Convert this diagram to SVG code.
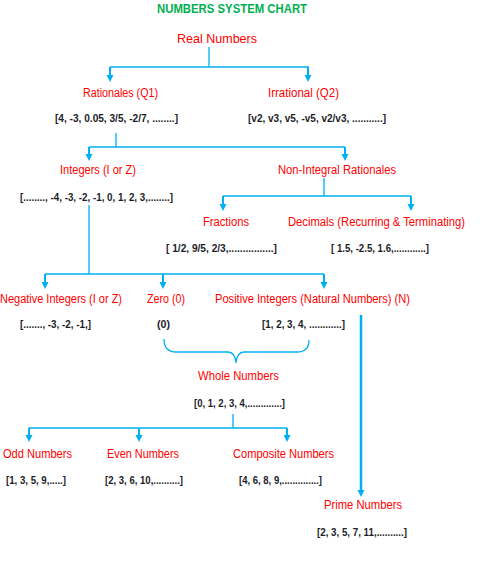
<svg xmlns="http://www.w3.org/2000/svg" width="484" height="572" viewBox="0 0 484 572">
<style>
text{font-family:"Liberation Sans",Arial,sans-serif;}
.t{fill:#00b050;font-size:12px;font-weight:bold;}
.h{fill:#ff0000;font-size:12px;}
.l{fill:#1c1c28;font-size:10.5px;font-weight:bold;}
.c{stroke:#00b0f0;stroke-width:1.3;fill:none;}
.a{stroke:#00b0f0;stroke-width:2;fill:none;marker-end:url(#ah);}
</style>
<defs>
<marker id="ah" viewBox="0 -4 8 8" markerWidth="8" markerHeight="8" refX="1" refY="0" orient="auto" markerUnits="userSpaceOnUse">
<path d="M0,-3.5 L7,0 L0,3.5 Z" fill="#00b0f0"/>
</marker>
</defs>
<rect width="484" height="572" fill="#ffffff"/>
<text class="t" x="157" y="13" textLength="150" lengthAdjust="spacingAndGlyphs">NUMBERS SYSTEM CHART</text>
<g id="connectors">
<path class="c" d="M209,47 V67 M110,67 H309"/>
<line class="a" x1="110" y1="67" x2="110" y2="76"/>
<line class="a" x1="308" y1="67" x2="308" y2="76"/>
<path class="c" d="M116,133 V147 M89,147 H345"/>
<line class="a" x1="89" y1="147" x2="89" y2="155"/>
<line class="a" x1="345" y1="147" x2="345" y2="155"/>
<path class="c" d="M324,178 V196 M223,196 H411"/>
<line class="a" x1="223" y1="196" x2="223" y2="205"/>
<line class="a" x1="411" y1="196" x2="411" y2="205"/>
<path class="c" d="M89,205 V274 M45,274 H324"/>
<line class="a" x1="45" y1="274" x2="45" y2="283"/>
<line class="a" x1="163" y1="274" x2="163" y2="283"/>
<line class="a" x1="324" y1="274" x2="324" y2="283"/>
<line class="a" style="stroke-width:2.5" x1="361" y1="315" x2="361" y2="491"/>
<path class="c" d="M164,339 Q164,352 176,352 H228 Q235,352 236,363 Q237,352 244,352 H297 Q309,352 309,340"/>
<path class="c" d="M233,414 V428 M29,428 H287"/>
<line class="a" x1="29" y1="428" x2="29" y2="436"/>
<line class="a" x1="139" y1="428" x2="139" y2="436"/>
<line class="a" x1="287" y1="428" x2="287" y2="436"/>
</g>
<g id="real"><text class="h" style="font-size:13px" x="177" y="43" textLength="80" lengthAdjust="spacingAndGlyphs">Real Numbers</text></g>
<g id="rationales">
<text class="h" x="83" y="96.5" textLength="75" lengthAdjust="spacingAndGlyphs">Rationales (Q1)</text>
<text class="l" x="55" y="122" textLength="123" lengthAdjust="spacingAndGlyphs">[4, -3, 0.05, 3/5, -2/7, ........]</text>
</g>
<g id="irrational">
<text class="h" x="268" y="96.5" textLength="71" lengthAdjust="spacingAndGlyphs">Irrational (Q2)</text>
<text class="l" x="248" y="122" textLength="138" lengthAdjust="spacingAndGlyphs">[v2, v3, v5, -v5, v2/v3, ...........]</text>
</g>
<g id="integers">
<text class="h" x="60" y="174" textLength="76" lengthAdjust="spacingAndGlyphs">Integers (I or Z)</text>
<text class="l" x="20" y="201" textLength="153" lengthAdjust="spacingAndGlyphs">[........, -4, -3, -2, -1, 0, 1, 2, 3,........]</text>
</g>
<g id="nonintegral">
<text class="h" x="278" y="174" textLength="118" lengthAdjust="spacingAndGlyphs">Non-Integral Rationales</text>
</g>
<g id="fractions">
<text class="h" x="203" y="226" textLength="46" lengthAdjust="spacingAndGlyphs">Fractions</text>
<text class="l" x="166" y="252" textLength="111" lengthAdjust="spacingAndGlyphs">[ 1/2, 9/5, 2/3,................]</text>
</g>
<g id="decimals">
<text class="h" x="288" y="226" textLength="177" lengthAdjust="spacingAndGlyphs">Decimals (Recurring &amp; Terminating)</text>
<text class="l" x="331" y="252" textLength="98" lengthAdjust="spacingAndGlyphs">[ 1.5, -2.5, 1.6,............]</text>
</g>
<g id="negative">
<text class="h" x="0" y="303" textLength="122" lengthAdjust="spacingAndGlyphs">Negative Integers (I or Z)</text>
<text class="l" x="20" y="328" textLength="71" lengthAdjust="spacingAndGlyphs">[......., -3, -2, -1,]</text>
</g>
<g id="zero">
<text class="h" x="147" y="303" textLength="38" lengthAdjust="spacingAndGlyphs">Zero (0)</text>
<text class="l" x="157" y="328" textLength="13" lengthAdjust="spacingAndGlyphs">(0)</text>
</g>
<g id="positive">
<text class="h" x="215" y="303" textLength="195" lengthAdjust="spacingAndGlyphs">Positive Integers (Natural Numbers) (N)</text>
<text class="l" x="262" y="328" textLength="83" lengthAdjust="spacingAndGlyphs">[1, 2, 3, 4, ............]</text>
</g>
<g id="whole">
<text class="h" x="198" y="380" textLength="81" lengthAdjust="spacingAndGlyphs">Whole Numbers</text>
<text class="l" x="194" y="407" textLength="91" lengthAdjust="spacingAndGlyphs">[0, 1, 2, 3, 4,.............]</text>
</g>
<g id="odd">
<text class="h" x="3" y="458" textLength="69" lengthAdjust="spacingAndGlyphs">Odd Numbers</text>
<text class="l" x="6" y="484" textLength="60" lengthAdjust="spacingAndGlyphs">[1, 3, 5, 9,.....]</text>
</g>
<g id="even">
<text class="h" x="107" y="458" textLength="72" lengthAdjust="spacingAndGlyphs">Even Numbers</text>
<text class="l" x="105" y="484" textLength="78" lengthAdjust="spacingAndGlyphs">[2, 3, 6, 10,..........]</text>
</g>
<g id="composite">
<text class="h" x="233" y="458" textLength="101" lengthAdjust="spacingAndGlyphs">Composite Numbers</text>
<text class="l" x="239" y="484" textLength="83" lengthAdjust="spacingAndGlyphs">[4, 6, 8, 9,..............]</text>
</g>
<g id="prime">
<text class="h" x="324" y="509" textLength="78" lengthAdjust="spacingAndGlyphs">Prime Numbers</text>
<text class="l" x="317" y="536" textLength="90" lengthAdjust="spacingAndGlyphs">[2, 3, 5, 7, 11,..........]</text>
</g>
</svg>
